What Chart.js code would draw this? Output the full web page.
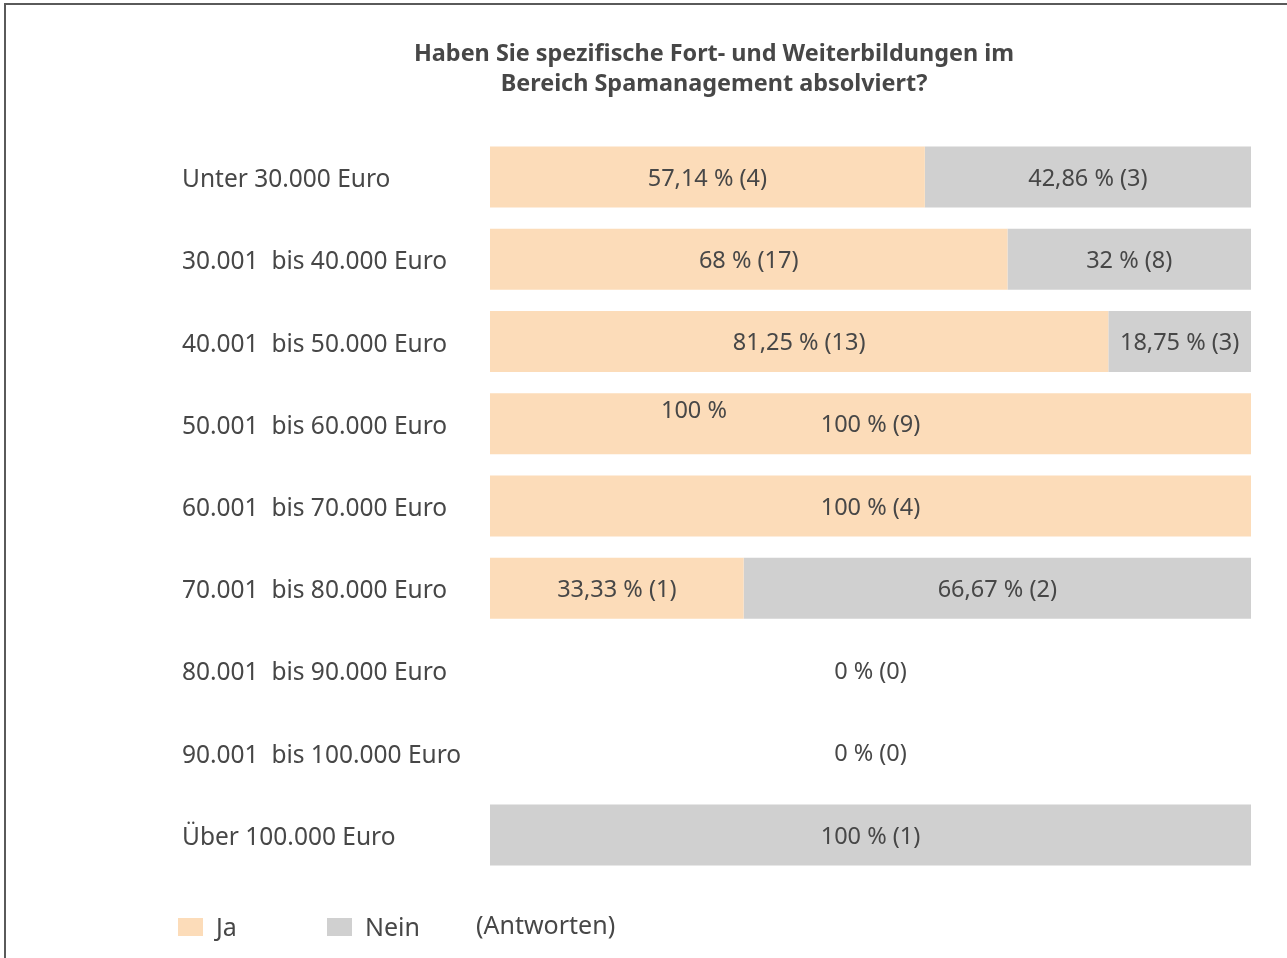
<!DOCTYPE html>
<html lang="de">
<head>
<meta charset="utf-8">
<title>Fort- und Weiterbildungen im Bereich Spamanagement</title>
<script src="https://cdn.jsdelivr.net/npm/chart.js@4/dist/chart.umd.min.js"></script>
<style>
  html, body { margin: 0; padding: 0; background: #ffffff; }
  #wrap { position: relative; width: 1287px; height: 958px; overflow: hidden; }
  #frame { position: absolute; left: 4px; top: 3px; width: 1400px; height: 1000px;
           border-top: 2px solid #5a5a5a; border-left: 2px solid #5a5a5a; box-sizing: border-box; }
  canvas { position: absolute; left: 0; top: 0; }
</style>
</head>
<body>
<div id="wrap">
  <div id="frame"></div>
  <canvas id="chart" width="1287" height="958"></canvas>
</div>
<script>
// Einkommensgruppen
const categories = [
  'Unter 30.000 Euro',
  '30.001  bis 40.000 Euro',
  '40.001  bis 50.000 Euro',
  '50.001  bis 60.000 Euro',
  '60.001  bis 70.000 Euro',
  '70.001  bis 80.000 Euro',
  '80.001  bis 90.000 Euro',
  '90.001  bis 100.000 Euro',
  'Über 100.000 Euro'
];

// Anteile in Prozent
const jaPercent   = [57.14, 68, 81.25, 100, 100, 33.33, 0, 0, 0];
const neinPercent = [42.86, 32, 18.75, 0, 0, 66.67, 0, 0, 100];

// Anzahl der Antworten
const jaCount   = [4, 17, 13, 9, 4, 1, 0, 0, 0];
const neinCount = [3, 8, 3, 0, 0, 2, 0, 0, 1];

const seriesNames = ['Ja', 'Nein'];
const titleLines = ['Haben Sie spezifische Fort- und Weiterbildungen im', 'Bereich Spamanagement absolviert?'];
const noteText = '(Antworten)';

const COLOR_JA = '#fcdcb9';
const COLOR_NEIN = '#d0d0d0';
const TEXT = '#474747';
const FONT = '"Noto Sans", "Open Sans", sans-serif';

function fmt(v) {
  return String(v).replace('.', ',') + ' %';
}

// Beschriftungen der Balkenabschnitte, Titel und Legende
const annotate = {
  id: 'annotate',
  afterDatasetsDraw(chart) {
    const ctx = chart.ctx;
    ctx.save();
    ctx.fillStyle = TEXT;
    ctx.textAlign = 'center';
    ctx.textBaseline = 'middle';
    ctx.font = '23.5px ' + FONT;

    const counts = [jaCount, neinCount];
    const yScale = chart.scales.y;
    const xScale = chart.scales.x;
    categories.forEach((c, i) => {
      let any = false;
      chart.data.datasets.forEach((ds, d) => {
        const v = ds.data[i];
        if (!v) return;
        any = true;
        const bar = chart.getDatasetMeta(d).data[i];
        const cx = (bar.x + bar.base) / 2;
        ctx.fillText(fmt(v) + ' (' + counts[d][i] + ')', cx, bar.y + 2);
      });
      if (!any) {
        ctx.fillText('0 % (0)', (xScale.left + xScale.right) / 2, yScale.getPixelForValue(i) + 2);
      }
    });

    // zusätzliche Angabe in der Gruppe 50.001 bis 60.000 Euro
    const extra = chart.getDatasetMeta(0).data[3];
    ctx.fillText(fmt(jaPercent[3]), extra.base + (extra.x - extra.base) * 0.268, extra.y - 12);

    // Titel
    ctx.font = 'bold 23.4px ' + FONT;
    const tx = 714;
    ctx.fillText(titleLines[0], tx, 54);
    ctx.fillText(titleLines[1], tx, 84);

    // Legende
    ctx.font = '25px ' + FONT;
    ctx.textAlign = 'left';
    const legendY = 927;
    const entries = [
      { x: 178, color: COLOR_JA, text: seriesNames[0] },
      { x: 327, color: COLOR_NEIN, text: seriesNames[1] }
    ];
    entries.forEach(e => {
      ctx.fillStyle = e.color;
      ctx.fillRect(e.x, legendY - 9, 25, 18);
      ctx.fillStyle = TEXT;
      ctx.fillText(e.text, e.x + 38, legendY + 2);
    });
    ctx.fillText(noteText, 476, legendY);
    ctx.restore();
  }
};

new Chart(document.getElementById('chart'), {
  type: 'bar',
  data: {
    labels: categories,
    datasets: [
      { label: seriesNames[0], data: jaPercent, backgroundColor: COLOR_JA, borderWidth: 0 },
      { label: seriesNames[1], data: neinPercent, backgroundColor: COLOR_NEIN, borderWidth: 0 }
    ]
  },
  options: {
    indexAxis: 'y',
    responsive: false,
    animation: false,
    devicePixelRatio: 1,
    layout: { padding: { left: 182, right: 36, top: 136, bottom: 82 } },
    datasets: { bar: { categoryPercentage: 1, barPercentage: 0.742 } },
    scales: {
      x: { stacked: true, min: 0, max: 100, display: false },
      y: {
        stacked: true,
        grid: { display: false },
        border: { display: false },
        ticks: {
          crossAlign: 'far',
          color: TEXT,
          font: { family: FONT, size: 24.5 },
          padding: 0,
          labelOffset: 3
        },
        afterFit(scale) { scale.width = 308; }
      }
    },
    plugins: {
      legend: { display: false },
      title: { display: false },
      tooltip: { enabled: false }
    }
  },
  plugins: [annotate]
});
</script>
</body>
</html>
